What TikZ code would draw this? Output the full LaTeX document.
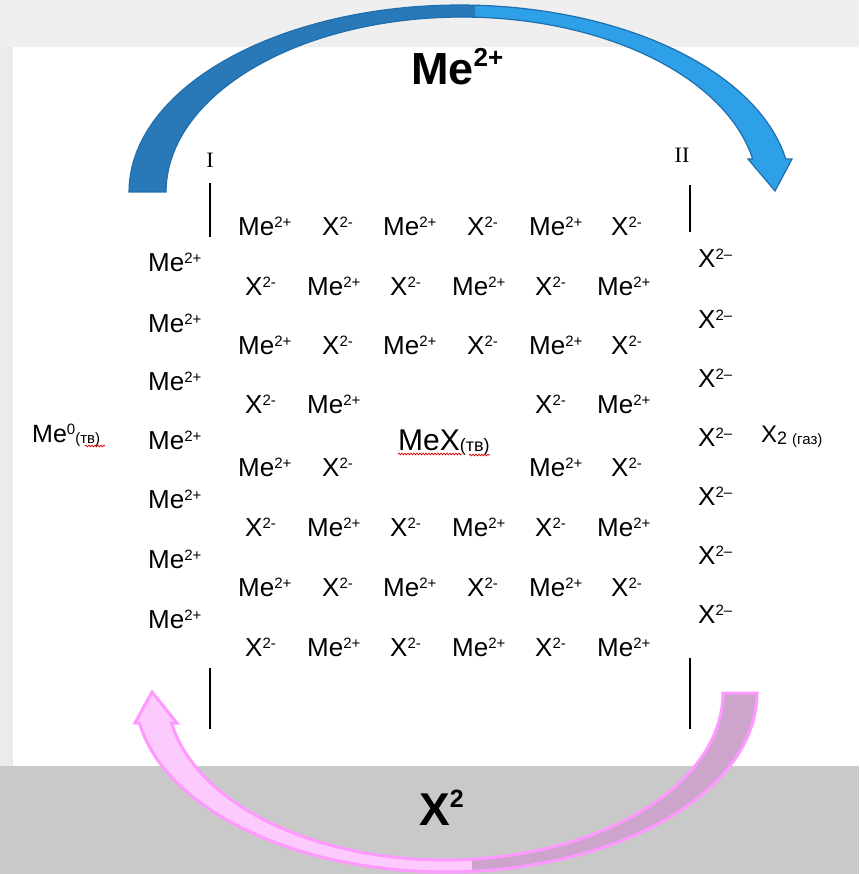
\documentclass[tikz,border=0pt]{standalone}
\usepackage{fontspec}
\setmainfont{Liberation Sans}
\newfontfamily\romfont{Liberation Serif}
\usetikzlibrary{decorations.pathmorphing}

\definecolor{topgray}{HTML}{EFEFEF}
\definecolor{sidegray}{HTML}{EBEBEB}
\definecolor{botgray}{HTML}{C9C9C9}
\definecolor{bluedark}{HTML}{2979B8}
\definecolor{bluelight}{HTML}{2EA0E8}
\definecolor{blueline}{HTML}{1F6EAD}
\definecolor{pinklight}{HTML}{FCCAFC}
\definecolor{pinkdark}{HTML}{CCA4CC}
\definecolor{pinkline}{HTML}{FF99FF}

\newcommand{\Mep}{Me\raisebox{8pt}{\fontsize{15}{15}\selectfont 2+}}
\newcommand{\Xm}{X\raisebox{8pt}{\fontsize{15}{15}\selectfont 2-}}
\newcommand{\Xd}{X\raisebox{8pt}{\fontsize{15}{15}\selectfont 2–}}

\tikzset{
  ion/.style={anchor=base west, inner sep=0pt, font=\fontsize{26}{26}\selectfont},
  wall/.style={line width=2.5pt},
  roman/.style={inner sep=0pt, font=\romfont\fontsize{22}{22}\selectfont},
  biglabel/.style={anchor=base west, inner sep=0pt, font=\bfseries\fontsize{45}{45}\selectfont},
  squiggle/.style={red!85!black, line width=0.7pt, decorate,
    decoration={snake, amplitude=0.9pt, segment length=3pt}},
}

\begin{document}
\begin{tikzpicture}[x=1pt,y=-1pt]
  \useasboundingbox (0,0) rectangle (859,874);
  % background
  \fill[topgray] (0,0) rectangle (859,47);
  \fill[sidegray] (0,47) rectangle (13,766);
  \fill[white] (13,47) rectangle (859,766);
  \fill[botgray] (0,766) rectangle (859,874);

  % Me2+ arrow on top
  \path[save path=\toparrow]
    plot[domain=180:349.8, samples=70] ({460+331*cos(\x)},{192+187*sin(\x)})
    -- (792,159) -- (775,191) -- (748,159)
    -- plot[domain=349.1:180, samples=70] ({462+296*cos(\x)},{192+175*sin(\x)}) -- cycle;
  \fill[bluelight, use path=\toparrow];
  \begin{scope}
    \clip (0,0) rectangle (475,200);
    \fill[bluedark, use path=\toparrow];
  \end{scope}
  \draw[blueline, line width=1.2pt, use path=\toparrow];

  % X2 arrow at the bottom
  \path[save path=\botarrow]
    plot[domain=0:170.3, samples=70] ({446+311*cos(\x)},{693+179*sin(\x)})
    -- (135,723) -- (152,692) -- (177,723)
    -- plot[domain=169.65:0, samples=70] ({445+278*cos(\x)},{693+167*sin(\x)}) -- cycle;
  \fill[pinklight, use path=\botarrow];
  \begin{scope}
    \clip (472,680) rectangle (859,874);
    \fill[pinkdark, use path=\botarrow];
  \end{scope}
  \draw[pinkline, line width=3pt, use path=\botarrow];

  \node[biglabel] (metop) at (411,85) {Me\raisebox{18pt}{\fontsize{26}{26}\selectfont 2+}};
  \node[biglabel, font=\bfseries\fontsize{46}{46}\selectfont] (xbot) at (419,825) {X\raisebox{18pt}{\fontsize{25}{25}\selectfont 2}};

  % phase boundaries
  \node[roman] (I) at (210,160) {I};
  \node[roman] (II) at (682,155) {II};
  \draw[wall] (210,183) -- (210,237);
  \draw[wall] (210,668) -- (210,729);
  \draw[wall] (690,185) -- (690,232);
  \draw[wall] (690,658) -- (690,729);

  % left and right sides
  \node[ion, font=\fontsize{25}{25}\selectfont] (me0) at (32,442)
    {Me\raisebox{8pt}{\fontsize{15}{15}\selectfont 0}\raisebox{-1pt}{\fontsize{15}{15}\selectfont(тв)}};
  \node[ion, font=\fontsize{24}{24}\selectfont] (x2gas) at (761,442)
    {X\raisebox{-2pt}{\fontsize{18}{18}\selectfont 2 \fontsize{15}{15}\selectfont(газ)}};

  \node[ion] (ml1) at (148,272) {\Mep};
  \node[ion] (ml2) at (148,332) {\Mep};
  \node[ion] (ml3) at (148,390) {\Mep};
  \node[ion] (ml4) at (148,449) {\Mep};
  \node[ion] (ml5) at (148,508) {\Mep};
  \node[ion] (ml6) at (148,568) {\Mep};
  \node[ion] (ml7) at (148,628) {\Mep};

  \node[ion] (xr1) at (698,268) {\Xd};
  \node[ion] (xr2) at (698,328) {\Xd};
  \node[ion] (xr3) at (698,387) {\Xd};
  \node[ion] (xr4) at (698,446) {\Xd};
  \node[ion] (xr5) at (698,505) {\Xd};
  \node[ion] (xr6) at (698,564) {\Xd};
  \node[ion] (xr7) at (698,623) {\Xd};

  % the crystal
  \node[ion] (r1c1) at (238,236) {\Mep};
  \node[ion] (r1c2) at (322,236) {\Xm};
  \node[ion] (r1c3) at (383,236) {\Mep};
  \node[ion] (r1c4) at (467,236) {\Xm};
  \node[ion] (r1c5) at (529,236) {\Mep};
  \node[ion] (r1c6) at (611,236) {\Xm};

  \node[ion] (r2c1) at (245,295) {\Xm};
  \node[ion] (r2c2) at (307,295) {\Mep};
  \node[ion] (r2c3) at (390,295) {\Xm};
  \node[ion] (r2c4) at (452,295) {\Mep};
  \node[ion] (r2c5) at (535,295) {\Xm};
  \node[ion] (r2c6) at (597,295) {\Mep};

  \node[ion] (r3c1) at (238,354) {\Mep};
  \node[ion] (r3c2) at (322,354) {\Xm};
  \node[ion] (r3c3) at (383,354) {\Mep};
  \node[ion] (r3c4) at (467,354) {\Xm};
  \node[ion] (r3c5) at (529,354) {\Mep};
  \node[ion] (r3c6) at (611,354) {\Xm};

  \node[ion] (r4c1) at (245,413) {\Xm};
  \node[ion] (r4c2) at (307,413) {\Mep};
  \node[ion] (r4c5) at (535,413) {\Xm};
  \node[ion] (r4c6) at (597,413) {\Mep};

  \node[ion] (r5c1) at (238,476) {\Mep};
  \node[ion] (r5c2) at (322,476) {\Xm};
  \node[ion] (r5c5) at (529,476) {\Mep};
  \node[ion] (r5c6) at (611,476) {\Xm};

  \node[ion] (r6c1) at (245,536) {\Xm};
  \node[ion] (r6c2) at (307,536) {\Mep};
  \node[ion] (r6c3) at (390,536) {\Xm};
  \node[ion] (r6c4) at (452,536) {\Mep};
  \node[ion] (r6c5) at (535,536) {\Xm};
  \node[ion] (r6c6) at (597,536) {\Mep};

  \node[ion] (r7c1) at (238,596) {\Mep};
  \node[ion] (r7c2) at (322,596) {\Xm};
  \node[ion] (r7c3) at (383,596) {\Mep};
  \node[ion] (r7c4) at (467,596) {\Xm};
  \node[ion] (r7c5) at (529,596) {\Mep};
  \node[ion] (r7c6) at (611,596) {\Xm};

  \node[ion] (r8c1) at (245,656) {\Xm};
  \node[ion] (r8c2) at (307,656) {\Mep};
  \node[ion] (r8c3) at (390,656) {\Xm};
  \node[ion] (r8c4) at (452,656) {\Mep};
  \node[ion] (r8c5) at (535,656) {\Xm};
  \node[ion] (r8c6) at (597,656) {\Mep};

  \node[ion, font=\fontsize{30}{30}\selectfont] (mex) at (398,450)
    {MeX\raisebox{-1pt}{\fontsize{18}{18}\selectfont(тв)}};

  % spell-check marks
  \draw[squiggle] (398,454) -- (462,454);
  \draw[squiggle] (469,455) -- (490,455);
  \draw[squiggle] (85,446) -- (105,446);
\end{tikzpicture}
\end{document}
